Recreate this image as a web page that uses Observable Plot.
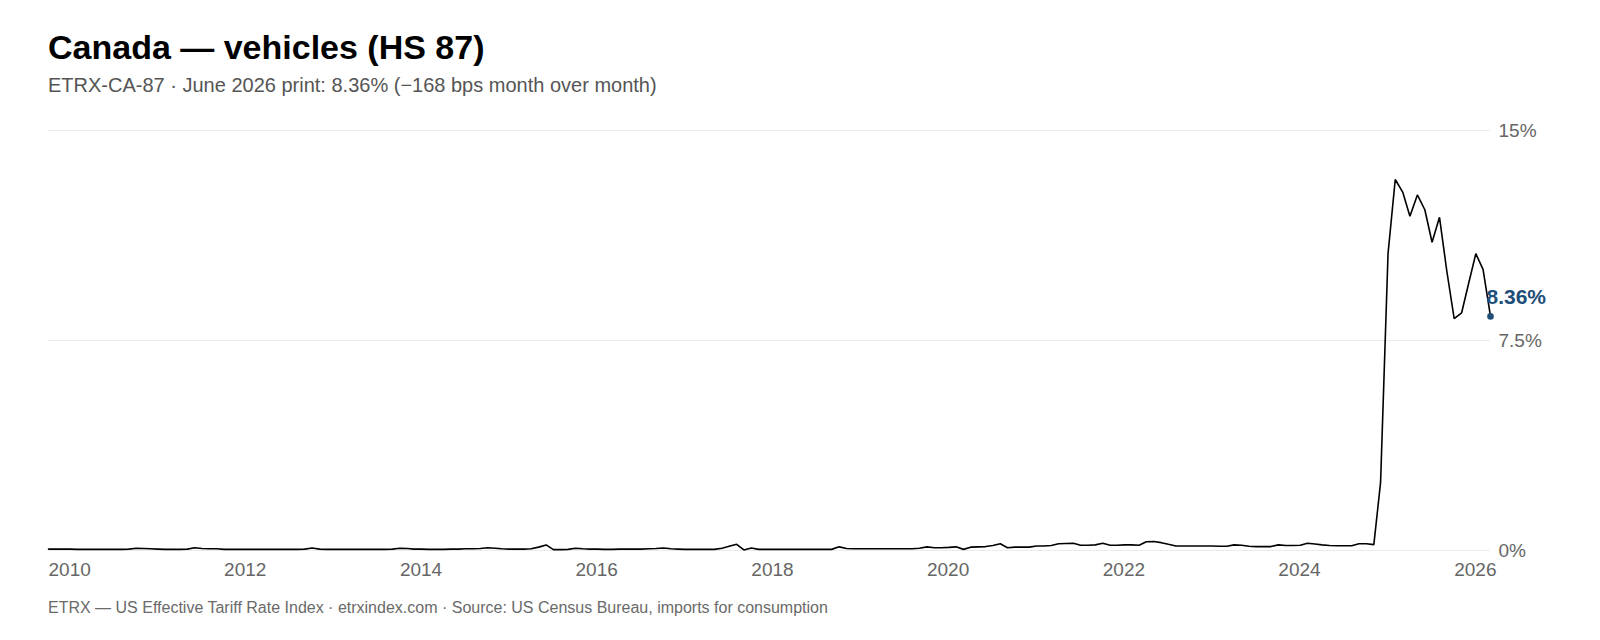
<!DOCTYPE html>
<html>
<head>
<meta charset="utf-8">
<script src="https://cdn.jsdelivr.net/npm/d3@7"></script>
<script src="https://cdn.jsdelivr.net/npm/@observablehq/plot@0.6"></script>
<style>
  html, body { margin: 0; padding: 0; background: #fff; width: 1600px; height: 640px; overflow: hidden; }
  body { position: relative; font-family: "Liberation Sans", Helvetica, Arial, sans-serif; }
  .t { position: absolute; left: 48px; white-space: nowrap; }
  #title { top: 30px; font-size: 34px; line-height: 34px; font-weight: bold; color: #000; }
  #subtitle { top: 75px; font-size: 20px; line-height: 20px; color: #555; }
  #footer { top: 600px; font-size: 16px; line-height: 16px; color: #6a6a6a; }
  #chart { position: absolute; left: 0; top: 110px; }
</style>
</head>
<body>
<div id="title" class="t">Canada — vehicles (HS 87)</div>
<div id="subtitle" class="t">ETRX-CA-87 · June 2026 print: 8.36% (−168 bps month over month)</div>
<div id="chart"></div>
<div id="footer" class="t">ETRX — US Effective Tariff Rate Index · etrxindex.com · Source: US Census Bureau, imports for consumption</div>
<script>
// Monthly series, starting January 2010 (values in %)
const startYear = 2010;
const values = [
  0.05,0.05,0.05,0.05,0.04,0.04,0.04,0.04,0.04,0.04,0.04,0.05, // 2010
  0.08,0.07,0.06,0.05,0.04,0.04,0.04,0.05,0.10,0.07,0.06,0.06, // 2011
  0.04,0.04,0.04,0.04,0.04,0.04,0.04,0.04,0.04,0.04,0.04,0.05, // 2012
  0.09,0.05,0.04,0.04,0.04,0.04,0.04,0.04,0.04,0.04,0.04,0.05, // 2013
  0.08,0.07,0.05,0.05,0.04,0.04,0.04,0.05,0.05,0.06,0.06,0.07, // 2014
  0.10,0.08,0.06,0.05,0.05,0.05,0.06,0.12,0.20,0.03,0.03,0.04, // 2015
  0.08,0.06,0.05,0.05,0.04,0.04,0.05,0.05,0.05,0.05,0.06,0.07, // 2016
  0.09,0.06,0.05,0.04,0.04,0.04,0.04,0.04,0.08,0.15,0.22,0.02, // 2017
  0.09,0.04,0.04,0.04,0.04,0.04,0.04,0.04,0.04,0.04,0.04,0.04, // 2018
  0.13,0.07,0.06,0.06,0.06,0.06,0.06,0.06,0.06,0.06,0.06,0.08, // 2019
  0.13,0.10,0.10,0.11,0.13,0.04,0.12,0.13,0.14,0.18,0.24,0.10, // 2020
  0.12,0.12,0.12,0.16,0.16,0.18,0.24,0.25,0.26,0.19,0.19,0.20, // 2021
  0.26,0.19,0.19,0.20,0.20,0.19,0.31,0.32,0.28,0.22,0.16,0.16, // 2022
  0.16,0.16,0.16,0.16,0.15,0.15,0.20,0.19,0.15,0.14,0.14,0.14, // 2023
  0.20,0.18,0.18,0.19,0.26,0.23,0.20,0.18,0.17,0.17,0.17,0.24, // 2024
  0.24,0.21,2.43,10.60,13.25,12.80,11.94,12.70,12.17,11.01,11.90,10.00, // 2025
  8.28,8.49,9.50,10.60,10.04,8.36 // 2026
];
const tickYears = [2010, 2012, 2014, 2016, 2018, 2020, 2022, 2024, 2026];
const yTicks = [0, 7.5, 15];
const yTickLabels = ["0%", "7.5%", "15%"];

const data = values.map((v, i) => ({date: new Date(Date.UTC(startYear, i, 1)), value: v}));
const last = data[data.length - 1];
const accent = "#1f4e79";

const chart = Plot.plot({
  width: 1600,
  height: 470,
  marginLeft: 48,
  marginRight: 110,
  marginTop: 20,
  marginBottom: 30,
  style: {fontFamily: "'Liberation Sans', Helvetica, Arial, sans-serif", fontSize: "19px", color: "#666", background: "#fff"},
  x: {type: "utc", domain: [data[0].date, last.date], label: null},
  y: {domain: [0, 15], label: null},
  marks: [
    Plot.gridY(yTicks, {stroke: "#ebebeb", strokeOpacity: 1, strokeWidth: 1}),
    Plot.axisY(yTicks, {anchor: "right", label: null, tickSize: 0, tickPadding: 8, tickFormat: d => yTickLabels[yTicks.indexOf(d)], fill: "#666"}),
    Plot.axisX(tickYears.map(y => new Date(Date.UTC(y, 0, 1))), {anchor: "bottom", label: null, tickSize: 0, tickPadding: 12, textAnchor: "start", tickFormat: d => String(d.getUTCFullYear()), fill: "#666"}),
    Plot.lineY(data, {x: "date", y: "value", stroke: "#000", strokeWidth: 1.6, strokeLinejoin: "miter"}),
    Plot.dot([last], {x: "date", y: "value", r: 3.3, fill: accent, stroke: "none"}),
    Plot.text([last], {x: "date", y: "value", text: d => d.value.toFixed(2) + "%", dx: -4, dy: -19.5, textAnchor: "start", fontWeight: "bold", fill: accent, fontSize: 21})
  ]
});
document.getElementById("chart").appendChild(chart);
</script>
</body>
</html>
